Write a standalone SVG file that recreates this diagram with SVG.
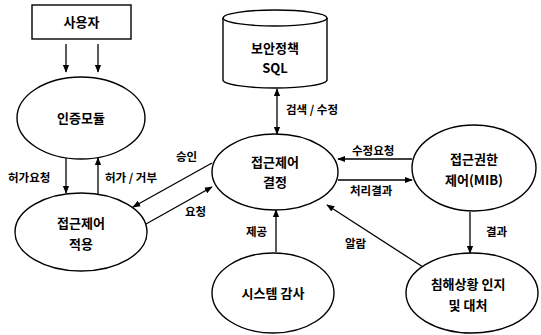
<svg xmlns="http://www.w3.org/2000/svg" width="541" height="335" viewBox="0 0 541 335">
<defs>
<marker id="ah" viewBox="0 0 10 10" refX="9" refY="5" markerWidth="8" markerHeight="8" orient="auto-start-reverse" markerUnits="userSpaceOnUse">
<path d="M0,1 L10,5 L0,9 Z" fill="#000"/>
</marker>
<style>
.n{fill:#fff;stroke:#000;stroke-width:1.4}
.t{font-family:"Noto Sans CJK KR","Noto Sans",sans-serif;font-weight:bold;font-size:13px;text-anchor:middle;fill:#000}
.l{font-family:"Noto Sans CJK KR","Noto Sans",sans-serif;font-weight:bold;font-size:11.5px;fill:#000}
.c{stroke:#000;stroke-width:1.3;fill:none}
</style>
</defs>
<rect width="541" height="335" fill="#fff"/>
<g id="connectors">
<line class="c" x1="66" y1="44" x2="66" y2="72" marker-end="url(#ah)"/>
<line class="c" x1="98" y1="44" x2="98" y2="72" marker-end="url(#ah)"/>
<line class="c" x1="66" y1="158" x2="66" y2="193" marker-end="url(#ah)"/>
<line class="c" x1="98" y1="194" x2="98" y2="158" marker-end="url(#ah)"/>
<line class="c" x1="212" y1="163" x2="133" y2="207" marker-end="url(#ah)"/>
<line class="c" x1="146" y1="224" x2="212" y2="187" marker-end="url(#ah)"/>
<line class="c" x1="277" y1="89" x2="277" y2="134" marker-start="url(#ah)" marker-end="url(#ah)"/>
<line class="c" x1="412" y1="159" x2="338" y2="159" marker-end="url(#ah)"/>
<line class="c" x1="338" y1="180" x2="412" y2="180" marker-end="url(#ah)"/>
<line class="c" x1="470" y1="212" x2="470" y2="253" marker-end="url(#ah)"/>
<line class="c" x1="423" y1="267" x2="327" y2="205" marker-end="url(#ah)"/>
<line class="c" x1="276" y1="252" x2="276" y2="210" marker-end="url(#ah)"/>
<text class="l" x="8" y="182">허가요청</text>
<text class="l" x="105" y="182">허가 / 거부</text>
<text class="l" x="176" y="161">승인</text>
<text class="l" x="185" y="216">요청</text>
<text class="l" x="286" y="114">검색 / 수정</text>
<text class="l" x="352" y="155">수정요청</text>
<text class="l" x="350" y="195">처리결과</text>
<text class="l" x="486" y="236">결과</text>
<text class="l" x="345" y="248">알람</text>
<text class="l" x="246" y="236">제공</text>
</g>
<g id="user">
<rect class="n" x="32" y="5" width="99" height="34"/>
<text class="t" x="81.5" y="27">사용자</text>
</g>
<g id="auth">
<ellipse class="n" cx="81" cy="118" rx="64" ry="41"/>
<text class="t" x="81" y="123">인증모듈</text>
</g>
<g id="apply">
<ellipse class="n" cx="81" cy="232" rx="66" ry="39"/>
<text class="t" x="81" y="228">접근제어</text>
<text class="t" x="81" y="249">적용</text>
</g>
<g id="db">
<path class="n" d="M223,18 L223,80 A52,8 0 0 0 327,80 L327,18"/>
<ellipse class="n" cx="275" cy="18" rx="52" ry="8"/>
<text class="t" x="275" y="53">보안정책</text>
<text class="t" x="275" y="73">SQL</text>
</g>
<g id="decide">
<ellipse class="n" cx="275" cy="172" rx="63" ry="38"/>
<text class="t" x="275" y="167">접근제어</text>
<text class="t" x="275" y="187">결정</text>
</g>
<g id="mib">
<ellipse class="n" cx="474" cy="168" rx="62" ry="43"/>
<text class="t" x="474" y="164">접근권한</text>
<text class="t" x="474" y="185">제어(MIB)</text>
</g>
<g id="audit">
<ellipse class="n" cx="273" cy="293" rx="61" ry="40"/>
<text class="t" x="273" y="298">시스템 감사</text>
</g>
<g id="intrusion">
<ellipse class="n" cx="472" cy="293" rx="66" ry="40"/>
<text class="t" x="468" y="289">침해상황 인지</text>
<text class="t" x="468" y="310">및 대처</text>
</g>
</svg>
